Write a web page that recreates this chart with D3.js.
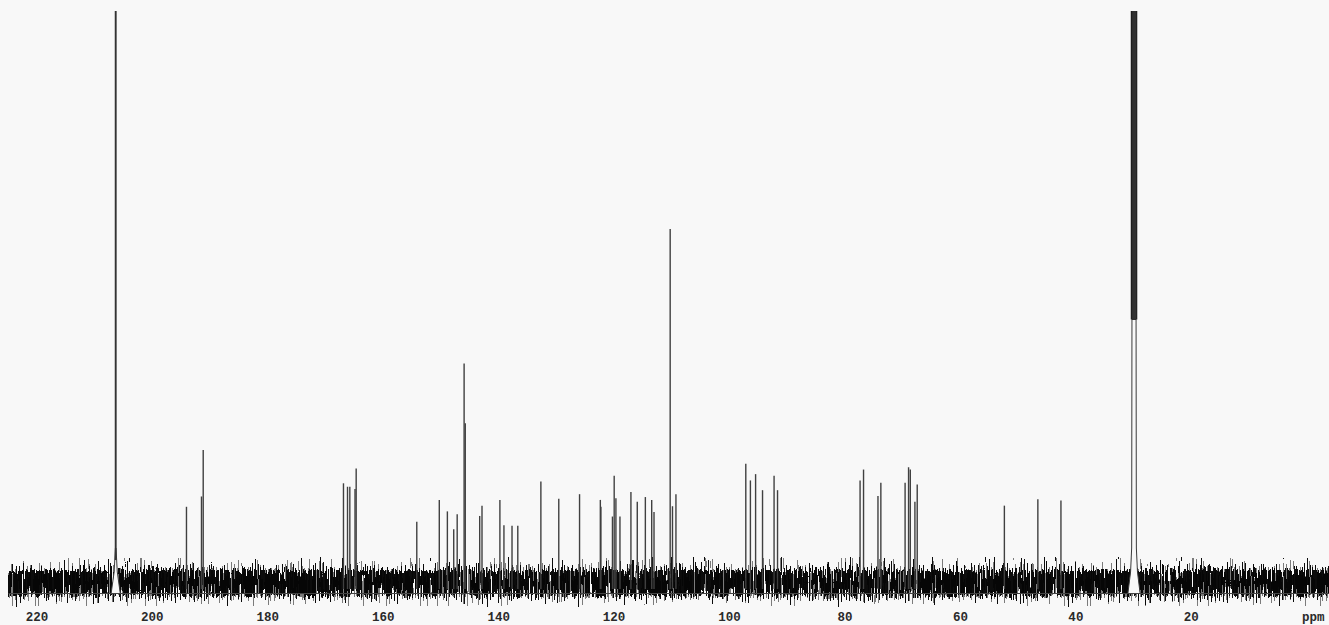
<!DOCTYPE html>
<html>
<head>
<meta charset="utf-8">
<script src="https://cdn.jsdelivr.net/npm/d3@7"></script>
<style>
  html, body { margin: 0; padding: 0; background: #f8f8f8; }
  svg { display: block; }
  .tick text, .unit { font-family: "Liberation Mono", monospace; font-size: 12.5px; fill: #2a2a2a; font-weight: bold; }
</style>
</head>
<body>
<svg id="spec" width="1329" height="625"></svg>
<script>
// 13C spectrum, chemical shifts in ppm, peak heights in relative intensity units
const ppmTicks = [220, 200, 180, 160, 140, 120, 100, 80, 60, 40, 20];

const peakShift = [
  194.0, 191.4, 191.1,
  166.8, 166.1, 165.7, 164.8, 164.6,
  154.1, 150.2, 148.8, 147.7, 147.1, 145.9, 145.7,
  143.2, 142.8, 139.7, 139.0, 137.6, 136.6,
  132.6, 129.5, 125.9, 122.3, 122.2,
  120.2, 119.9, 119.6, 118.9, 117.0, 115.9, 114.5, 113.4, 113.0,
  110.2, 109.8, 109.2,
  97.1, 96.3, 95.4, 94.2, 92.2, 91.6,
  77.3, 76.7, 74.2, 73.7,
  69.5, 68.9, 68.6, 67.8, 67.4,
  52.3, 46.5, 42.5
];
const peakHeight = [
  13.3, 15.1, 23.2,
  17.4, 16.8, 16.8, 16.4, 20.0,
  10.7, 14.5, 12.5, 9.4, 12.0, 38.3, 27.9,
  11.7, 13.5, 14.5, 10.1, 10.0, 10.0,
  17.7, 14.7, 15.5, 14.5, 13.3,
  11.6, 18.7, 14.8, 11.6, 15.9, 14.2, 15.0, 14.5, 12.4,
  61.8, 13.4, 15.5,
  20.8, 17.9, 19.0, 16.2, 18.7, 16.2,
  17.9, 19.8, 15.2, 17.5,
  17.5, 20.2, 19.8, 14.2, 17.2,
  13.5, 14.6, 14.4
];

// acetone-d6 solvent: carbonyl singlet and CD3 septet (both run off scale)
const solventCarbonylShift = [206.26];
const solventCarbonylHeight = [200];
const solventMethylShift = [30.30, 30.15, 29.99, 29.84, 29.69, 29.53, 29.38];
const solventMethylHeight = [110, 160, 200, 220, 200, 160, 110];
// level where the septet lines merge into one band (lowest inter-line valley)
const solventMethylValley = 46;

const W = 1329, H = 625;
const svg = d3.select("#spec");

const x = d3.scaleLinear().domain([224.92, -3.94]).range([8, 1329]);
const y = d3.scaleLinear().domain([0, 100]).range([583, 10]);
const axisY = 593;

const defs = svg.append("defs");

defs.append("clipPath").attr("id", "plotClip")
  .append("rect").attr("x", 0).attr("y", 11).attr("width", W).attr("height", H - 11);

// vertical density profile of the baseline noise band
function profile(id, stops) {
  const g = defs.append("linearGradient").attr("id", id)
    .attr("x1", 0).attr("y1", 0).attr("x2", 0).attr("y2", 1);
  stops.forEach(([o, a]) => g.append("stop").attr("offset", o)
    .attr("stop-color", "#000").attr("stop-opacity", a));
}
profile("bandCore", [[0, 0], [0.2, 0.3], [0.36, 0.75], [0.53, 1], [0.7, 0.75], [0.85, 0.3], [1, 0]]);
profile("bandHalo", [[0, 0], [0.12, 0.4], [0.4, 0.85], [0.53, 1], [0.72, 0.85], [0.92, 0.4], [1, 0]]);

// streaky grain texture that turns the band into per-column vertical strokes
function grain(id, seed, k4) {
  const f = defs.append("filter").attr("id", id)
    .attr("x", 0).attr("y", 0).attr("width", 1).attr("height", 1)
    .attr("color-interpolation-filters", "sRGB");
  f.append("feTurbulence").attr("type", "fractalNoise")
    .attr("baseFrequency", "0.73 0.035").attr("numOctaves", 2).attr("seed", seed).attr("result", "turb");
  f.append("feColorMatrix").attr("in", "turb").attr("type", "matrix")
    .attr("values", "0 0 0 0 0  0 0 0 0 0  0 0 0 0 0  1.8 0 0 0 -0.4").attr("result", "n");
  f.append("feComposite").attr("in", "n").attr("in2", "SourceGraphic").attr("operator", "arithmetic")
    .attr("k1", 0).attr("k2", 1).attr("k3", 1).attr("k4", k4).attr("result", "sum");
  f.append("feComponentTransfer").attr("in", "sum")
    .append("feFuncA").attr("type", "discrete").attr("tableValues", "0 1");
}
grain("grainCore", 7, -0.62);
grain("grainHalo", 19, -0.82);

const plot = svg.append("g").attr("clip-path", "url(#plotClip)");

// baseline noise: lighter halo, then dense core
plot.append("rect")
  .attr("x", x.range()[0]).attr("y", 552).attr("width", x.range()[1] - x.range()[0]).attr("height", 58)
  .attr("fill", "url(#bandHalo)").attr("filter", "url(#grainHalo)").attr("opacity", 0.5);
plot.append("rect")
  .attr("x", x.range()[0]).attr("y", 552).attr("width", x.range()[1] - x.range()[0]).attr("height", 58)
  .attr("fill", "url(#bandCore)").attr("filter", "url(#grainCore)").attr("opacity", 0.95);

// broadened foot of a solvent signal: outer edges of the envelope up to topY
function skirt(shifts, halfBase, topY, inset) {
  const xl = x(d3.max(shifts)) + inset, xr = x(d3.min(shifts)) - inset;
  const pts = [[xl - halfBase, axisY], [xl - halfBase * 0.35, 572], [xl - 0.3, 548], [xl, topY],
               [xr, topY], [xr + 0.3, 548], [xr + halfBase * 0.35, 572], [xr + halfBase, axisY]];
  plot.append("path").attr("d", d3.line()(pts))
    .attr("fill", "#f8f8f8").attr("stroke", "#3a3a3a").attr("stroke-width", 1);
}
skirt(solventCarbonylShift, 4.5, 548, 0);
skirt(solventMethylShift, 4, y(solventMethylValley), 0.6);

// ppm axis
const axis = d3.axisBottom(x).tickValues(ppmTicks).tickFormat(d3.format("d"))
  .tickSizeInner(0).tickSizeOuter(0).tickPadding(19);
const ax = svg.append("g").attr("transform", `translate(0,${axisY})`).call(axis);
ax.select(".domain").attr("stroke", "#444").attr("stroke-width", 1);
svg.append("text").attr("class", "unit")
  .attr("x", x(-1.2)).attr("y", axisY).attr("dy", "0.71em")
  .attr("transform", "translate(0,19)").attr("text-anchor", "middle").text("ppm");

// sample peaks
const peaks = peakShift.map((s, i) => ({ s, h: peakHeight[i] }));
plot.selectAll("line.peak").data(peaks).join("line").attr("class", "peak")
  .attr("x1", d => x(d.s)).attr("x2", d => x(d.s))
  .attr("y1", y(0) + 6).attr("y2", d => y(d.h))
  .attr("stroke", "#404040").attr("stroke-width", 1.4);

// solvent carbonyl line
plot.selectAll("line.carbonyl")
  .data(solventCarbonylShift.map((s, i) => ({ s, h: solventCarbonylHeight[i] })))
  .join("line").attr("class", "carbonyl")
  .attr("x1", d => x(d.s)).attr("x2", d => x(d.s))
  .attr("y1", 560).attr("y2", d => y(d.h))
  .attr("stroke", "#333").attr("stroke-width", 1.9);

// solvent septet: lines merge into one dark band above the valley level
plot.selectAll("line.septet")
  .data(solventMethylShift.map((s, i) => ({ s, h: solventMethylHeight[i] })))
  .join("line").attr("class", "septet")
  .attr("x1", d => x(d.s)).attr("x2", d => x(d.s))
  .attr("y1", y(solventMethylValley)).attr("y2", d => y(d.h))
  .attr("stroke", "#1a1a1a").attr("stroke-width", 1.2);
</script>
</body>
</html>
